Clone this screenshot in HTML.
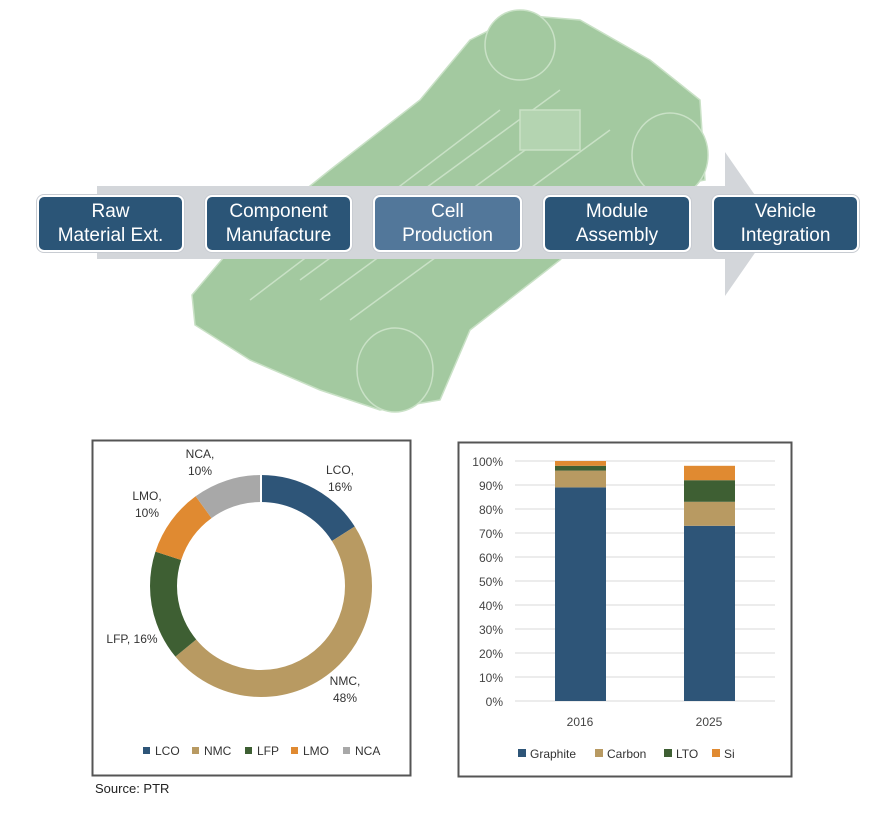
<!DOCTYPE html>
<html><head><style>
body{margin:0;width:882px;height:830px;background:#fff;font-family:"Liberation Sans",sans-serif;overflow:hidden;position:relative}
.b{position:absolute;top:195px;height:57px;background:#2b5577;border:2px solid #fff;border-radius:7px;box-shadow:0 0 0 1px #c8ccd2;color:#fff;font-size:19px;line-height:24px;text-align:center;display:flex;align-items:center;justify-content:center;box-sizing:border-box}
</style></head><body>
<svg width="882" height="830" style="position:absolute;left:0;top:0" font-family="Liberation Sans, sans-serif">
<!-- car -->
<g fill="#a3c9a0" stroke="#c9e1c6" stroke-width="1.5">
<polygon points="470,40 520,15 580,20 650,60 700,100 705,180 620,195 560,260 470,330 440,400 380,410 320,390 250,360 195,325 192,295 230,250 330,170 420,100"/>
<ellipse cx="670" cy="155" rx="38" ry="42"/>
<ellipse cx="395" cy="370" rx="38" ry="42"/>
<ellipse cx="520" cy="45" rx="35" ry="35"/>
<line x1="300" y1="280" x2="560" y2="90"/><line x1="320" y1="300" x2="580" y2="110"/>
<line x1="350" y1="320" x2="610" y2="130"/><line x1="250" y1="300" x2="500" y2="110"/>
<rect x="520" y="110" width="60" height="40" fill="#b4d4b1"/>
</g>
<!-- arrow -->
<polygon points="97,186 725,186 725,152 775,224 725,296 725,259 97,259" fill="#d3d6da"/>
<!-- left panel -->
<rect x="92.5" y="440.5" width="318" height="335" fill="#fff" stroke="#555" stroke-width="2"/>
<g fill="none" stroke-width="27">
<circle cx="261" cy="586" r="97.5" stroke="#2e5578" stroke-dasharray="98 1000" transform="rotate(-90 261 586)"/>
<circle cx="261" cy="586" r="97.5" stroke="#b89a62" stroke-dasharray="0 98 294 1000" transform="rotate(-90 261 586)"/>
<circle cx="261" cy="586" r="97.5" stroke="#3e5f33" stroke-dasharray="0 392 98 1000" transform="rotate(-90 261 586)"/>
<circle cx="261" cy="586" r="97.5" stroke="#e08a31" stroke-dasharray="0 490 61 1000" transform="rotate(-90 261 586)"/>
<circle cx="261" cy="586" r="97.5" stroke="#a8a8a8" stroke-dasharray="0 551 62 1000" transform="rotate(-90 261 586)"/>
</g>
<g stroke="#fff" stroke-width="2">
<line x1="261" y1="475" x2="261" y2="503"/>
</g>
<g font-size="12" fill="#333" text-anchor="middle">
<text x="340" y="474">LCO,</text><text x="340" y="491">16%</text>
<text x="345" y="685">NMC,</text><text x="345" y="702">48%</text>
<text x="132" y="643">LFP, 16%</text>
<text x="147" y="500">LMO,</text><text x="147" y="517">10%</text>
<text x="200" y="458">NCA,</text><text x="200" y="475">10%</text>
</g>
<g font-size="12" fill="#333">
<rect x="143" y="747" width="7" height="7" fill="#2e5578"/><text x="155" y="755">LCO</text>
<rect x="192" y="747" width="7" height="7" fill="#b89a62"/><text x="204" y="755">NMC</text>
<rect x="245" y="747" width="7" height="7" fill="#3e5f33"/><text x="257" y="755">LFP</text>
<rect x="291" y="747" width="7" height="7" fill="#e08a31"/><text x="303" y="755">LMO</text>
<rect x="343" y="747" width="7" height="7" fill="#a8a8a8"/><text x="355" y="755">NCA</text>
</g>
<text x="95" y="793" font-size="13" fill="#222">Source: PTR</text>
<!-- right panel -->
<rect x="458.5" y="442.5" width="333" height="334" fill="#fff" stroke="#555" stroke-width="2"/>
<g stroke="#d9d9d9" stroke-width="1">
<line x1="515" y1="461" x2="775" y2="461"/><line x1="515" y1="485" x2="775" y2="485"/>
<line x1="515" y1="509" x2="775" y2="509"/><line x1="515" y1="533" x2="775" y2="533"/>
<line x1="515" y1="557" x2="775" y2="557"/><line x1="515" y1="581" x2="775" y2="581"/>
<line x1="515" y1="605" x2="775" y2="605"/><line x1="515" y1="629" x2="775" y2="629"/>
<line x1="515" y1="653" x2="775" y2="653"/><line x1="515" y1="677" x2="775" y2="677"/>
<line x1="515" y1="701" x2="775" y2="701"/>
</g>
<g font-size="12" fill="#444" text-anchor="end">
<text x="503" y="466">100%</text><text x="503" y="490">90%</text><text x="503" y="514">80%</text>
<text x="503" y="538">70%</text><text x="503" y="562">60%</text><text x="503" y="586">50%</text>
<text x="503" y="610">40%</text><text x="503" y="634">30%</text><text x="503" y="658">20%</text>
<text x="503" y="682">10%</text><text x="503" y="706">0%</text>
</g>
<rect x="555" y="487.4" width="51" height="213.6" fill="#2e5578"/>
<rect x="555" y="470.6" width="51" height="16.8" fill="#b89a62"/>
<rect x="555" y="465.8" width="51" height="4.8" fill="#3e5f33"/>
<rect x="555" y="461" width="51" height="4.8" fill="#e08a31"/>
<rect x="684" y="525.8" width="51" height="175.2" fill="#2e5578"/>
<rect x="684" y="501.8" width="51" height="24" fill="#b89a62"/>
<rect x="684" y="480.2" width="51" height="21.6" fill="#3e5f33"/>
<rect x="684" y="465.8" width="51" height="14.4" fill="#e08a31"/>
<g font-size="12" fill="#444" text-anchor="middle">
<text x="580" y="726">2016</text><text x="709" y="726">2025</text>
</g>
<g font-size="12" fill="#333">
<rect x="518" y="749" width="8" height="8" fill="#2e5578"/><text x="530" y="758">Graphite</text>
<rect x="595" y="749" width="8" height="8" fill="#b89a62"/><text x="607" y="758">Carbon</text>
<rect x="664" y="749" width="8" height="8" fill="#3e5f33"/><text x="676" y="758">LTO</text>
<rect x="712" y="749" width="8" height="8" fill="#e08a31"/><text x="724" y="758">Si</text>
</g>
</svg>
<div class="b" style="left:37px;width:147px">Raw<br>Material Ext.</div>
<div class="b" style="left:205px;width:147px">Component<br>Manufacture</div>
<div class="b" style="left:373px;width:149px;background:#52779a">Cell<br>Production</div>
<div class="b" style="left:543px;width:148px">Module<br>Assembly</div>
<div class="b" style="left:712px;width:147px">Vehicle<br>Integration</div>
</body></html>
